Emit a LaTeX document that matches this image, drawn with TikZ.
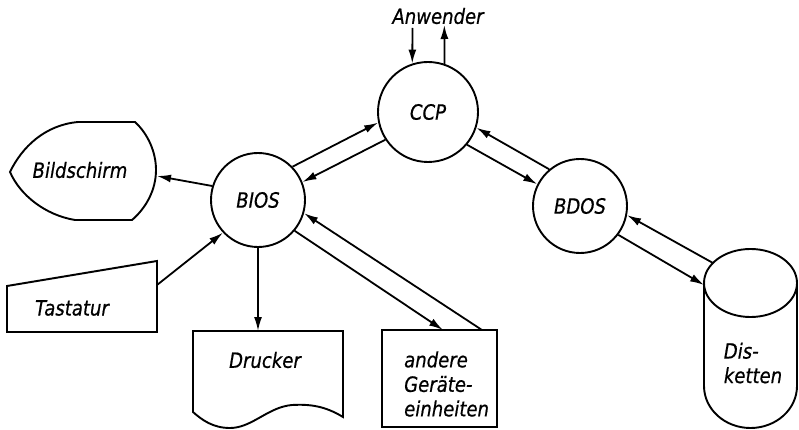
\documentclass[tikz,border=0pt]{standalone}
\usepackage{fontspec}
\setmainfont{DejaVu Sans}[FakeStretch=0.86,FakeBold=0.6]
\usetikzlibrary{arrows.meta}
\begin{document}
\begin{tikzpicture}[x=1pt,y=-1pt,
  lbl/.style={font=\fontsize{21}{24.5}\selectfont\itshape,inner sep=0pt},
  proc/.style={draw,circle,line width=1.9pt,inner sep=0pt,lbl},
  ln/.style={line width=1.8pt},
  arr/.style={ln,-{Latex[length=14pt,width=8pt]}},
  shp/.style={line width=1.9pt}]
\useasboundingbox (0,0) rectangle (799,430);
% processes
\node[proc,minimum size=100pt] (ccp) at (428,112) {CCP};
\node[proc,minimum size=94pt] (bios) at (258,200) {BIOS};
\node[proc,minimum size=94pt] (bdos) at (580,206) {BDOS};
% Bildschirm (display)
\draw[shp] (78,122) -- (135,122) .. controls (148,134) and (156,152) .. (156,170)
  .. controls (156,190) and (146,208) .. (132,220) -- (75,220)
  .. controls (45,215) and (20,195) .. (10,172)
  .. controls (22,147) and (45,125) .. (78,122) -- cycle;
\node[lbl] (bild) at (80,170) {Bildschirm};
\coordinate (bildR) at (157,176);
% Tastatur (manual input)
\draw[shp] (7,286) -- (157,261) -- (157,332) -- (7,332) -- cycle;
\node[lbl] (tast) at (72,308) {Tastatur};
\coordinate (tastR) at (157,285);
% Drucker (document)
\draw[shp] (193,412) -- (193,331) -- (343,331) -- (343,417)
  .. controls (325,406) and (310,404) .. (292,405)
  .. controls (268,407) and (252,428) .. (230,428)
  .. controls (213,428) and (202,420) .. (193,412) -- cycle;
\node[lbl] (druck) at (265,360) {Drucker};
\coordinate (druckT) at (258,331);
% andere Geraeteeinheiten
\draw[shp] (382,330) rectangle (497,427);
\node[lbl,align=left,anchor=west] (andere) at (404,384) {andere\\Geräte-\\einheiten};
\coordinate (andA) at (443,330);
\coordinate (andB) at (482,330);
% Disketten (cylinder)
\draw[shp] (704,283) -- (704,386) arc[start angle=180,end angle=0,x radius=46.5,y radius=42] -- (797,283);
\draw[shp] (750.5,283) ellipse[x radius=46.5,y radius=34];
\node[lbl,align=left] (disk) at (753,363) {Dis-\\ketten};
\coordinate (diskE) at (713,263);
\coordinate (diskF) at (704,285);
% Anwender
\node[lbl] (anw) at (438,16) {Anwender};
\coordinate (anwIn) at (412.5,28);
\coordinate (anwOut) at (444.3,25);
% connectors
\draw[arr] (anwIn) -- (ccp.108);
\draw[arr] (ccp.71) -- (anwOut);
\draw[arr] (bios.44) -- (ccp.192);
\draw[arr] (ccp.213) -- (bios.22);
\draw[arr] (bdos.130) -- (ccp.342);
\draw[arr] (ccp.320) -- (bdos.153);
\draw[arr] (diskE) -- (bdos.349);
\draw[arr] (bdos.323) -- (diskF);
\draw[arr] (bios.163) -- (bildR);
\draw[arr] (tastR) -- (bios.223);
\draw[arr] (bios.south) -- (druckT);
\draw[arr] (bios.320) -- (andA);
\draw[arr] (andB) -- (bios.344);
\end{tikzpicture}
\end{document}
